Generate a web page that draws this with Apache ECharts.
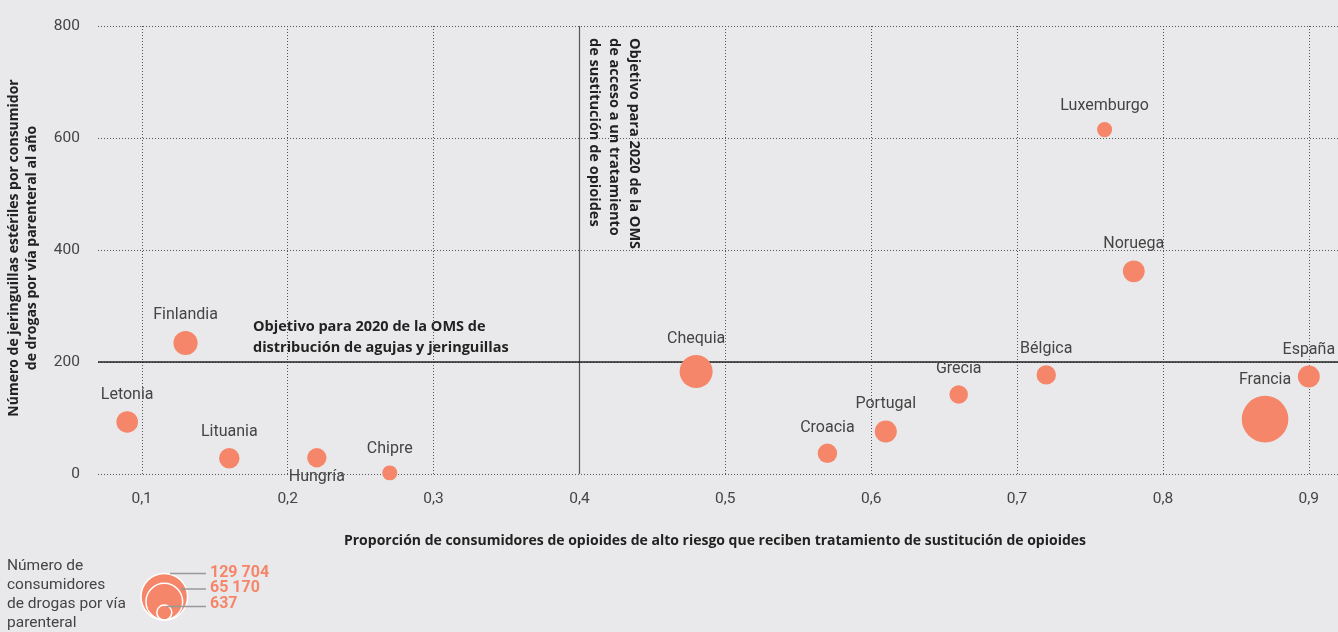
<!DOCTYPE html>
<html><head><meta charset="utf-8">
<script src="https://cdn.jsdelivr.net/npm/echarts@6/dist/echarts.min.js"></script>
<style>html,body{margin:0;padding:0;background:#e9e9eb;}#c{width:1338px;height:632px;}</style>
</head><body><div id="c"></div>
<script>
const countries = ['Letonia','Finlandia','Lituania','Hungría','Chipre','Chequia','Croacia','Portugal','Grecia','Bélgica','Luxemburgo','Noruega','Francia','España'];
const treatmentShare = [0.09,0.13,0.16,0.22,0.27,0.48,0.57,0.61,0.66,0.72,0.76,0.78,0.87,0.90];
const syringesPerUser = [93,234,28,29,2,183,37,76,142,177,615,362,98,174];
const injectingUsers = [9000,15000,7000,5200,637,47000,5300,10000,4000,5200,700,9500,129704,9800];
const xTicks = [0.1,0.2,0.3,0.4,0.5,0.6,0.7,0.8,0.9];
const yTicks = [0,200,400,600,800];
const targetTreatment = 0.4;
const targetSyringes = 200;
const legendValues = [129704, 65170, 637];
const legendLabels = ['129 704','65 170','637'];

const ORANGE = '#f5866a';
const FONT = 'Roboto, "Liberation Sans", sans-serif';
const BFONT = '"Open Sans", Roboto, sans-serif';
function radius(v){ return 6.3 + 0.0472*Math.sqrt(v); }

const chart = echarts.init(document.getElementById('c'), null, {renderer:'canvas'});
const pts = countries.map((n,i)=>({
  value:[treatmentShare[i], syringesPerUser[i], injectingUsers[i]],
  name:n,
  label: n==='Hungría' ? {position:'bottom', distance:2} : {}
}));
const dotted = {color:'#555', width:1, type:[1,2]};

const option = {
  backgroundColor:'#e9e9eb',
  animation:false,
  textStyle:{fontFamily:FONT},
  grid:{left:98, top:26, width:1241, height:448, containLabel:false},
  xAxis:{type:'value', min:0.07, max:0.92,
    axisLine:{show:false}, axisTick:{show:false}, splitLine:{show:false},
    axisLabel:{customValues:xTicks, color:'#444', fontSize:15.5, margin:17, fontFamily:FONT,
      formatter:v=>v.toFixed(1).replace('.',',')}},
  yAxis:{type:'value', min:0, max:800, interval:200,
    axisLine:{show:false}, axisTick:{show:false},
    splitLine:{show:true, lineStyle:dotted},
    axisLabel:{color:'#444', fontSize:15.5, margin:18, fontFamily:FONT}},
  series:[
    {type:'scatter', data:[], z:1, silent:true,
      markLine:{silent:true, symbol:'none', label:{show:false}, animation:false,
        lineStyle:dotted,
        data: xTicks.filter(t=>t!==targetTreatment).map(t=>({xAxis:t}))}},
    {type:'scatter', data:[], z:2, silent:true,
      markLine:{silent:true, symbol:'none', label:{show:false}, animation:false,
        data:[{xAxis:targetTreatment, lineStyle:{color:'#555', width:1.2, type:'solid'}},
              {yAxis:targetSyringes, lineStyle:{color:'#222', width:1.5, type:'solid'}}]}},
    {type:'scatter', z:5, data:pts,
      symbolSize:v=>2*radius(v[2]),
      itemStyle:{color:ORANGE, opacity:1},
      label:{show:true, position:'top', distance:8, formatter:p=>p.name,
        color:'#444', fontSize:16, fontFamily:FONT}}
  ],
  graphic:[
    {type:'text', x:23, y:248, rotation:Math.PI/2,
      style:{text:'Número de jeringuillas estériles por consumidor\nde drogas por vía parenteral al año',
        font:'bold 14px '+BFONT, fill:'#222', align:'center', verticalAlign:'middle', lineHeight:18}},
    {type:'text', x:715, y:541,
      style:{text:'Proporción de consumidores de opioides de alto riesgo que reciben tratamiento de sustitución de opioides',
        font:'bold 14px '+BFONT, fill:'#222', align:'center', verticalAlign:'middle'}},
    {type:'text', x:253, y:316,
      style:{text:'Objetivo para 2020 de la OMS de\ndistribución de agujas y jeringuillas',
        font:'bold 14.5px '+BFONT, fill:'#222', align:'left', verticalAlign:'top', lineHeight:21.5}},
    {type:'text', x:644, y:38, rotation:-Math.PI/2,
      style:{text:'Objetivo para 2020 de la OMS\nde acceso a un tratamiento\nde sustitución de opioides',
        font:'bold 14.5px '+BFONT, fill:'#222', align:'left', verticalAlign:'top', lineHeight:20}},
    {type:'text', x:7, y:557,
      style:{text:'Número de\nconsumidores\nde drogas por vía\nparenteral',
        font:'15.5px '+FONT, fill:'#444', align:'left', verticalAlign:'top', lineHeight:19}},
    {type:'circle', shape:{cx:164.3, cy:620-radius(legendValues[0]), r:radius(legendValues[0])},
      style:{fill:ORANGE, stroke:'#fff', lineWidth:1.5}},
    {type:'circle', shape:{cx:164.3, cy:620-radius(legendValues[1]), r:radius(legendValues[1])},
      style:{fill:null, stroke:'#fff', lineWidth:1.5}},
    {type:'circle', shape:{cx:164.3, cy:620-radius(legendValues[2]), r:radius(legendValues[2])},
      style:{fill:ORANGE, stroke:'#fff', lineWidth:1.5}},
    {type:'line', shape:{x1:170, y1:573.5, x2:206, y2:573.5}, style:{stroke:'#999', lineWidth:1.5}},
    {type:'line', shape:{x1:181, y1:589, x2:206, y2:589}, style:{stroke:'#999', lineWidth:1.5}},
    {type:'line', shape:{x1:166, y1:606.5, x2:206, y2:606.5}, style:{stroke:'#999', lineWidth:1.5}},
    {type:'text', x:210, y:573, style:{text:legendLabels[0], font:'bold 16px '+FONT, fill:ORANGE, verticalAlign:'middle'}},
    {type:'text', x:210, y:588, style:{text:legendLabels[1], font:'bold 16px '+FONT, fill:ORANGE, verticalAlign:'middle'}},
    {type:'text', x:210, y:603.5, style:{text:legendLabels[2], font:'bold 16px '+FONT, fill:ORANGE, verticalAlign:'middle'}}
  ]
};
chart.setOption(option);
</script></body></html>
